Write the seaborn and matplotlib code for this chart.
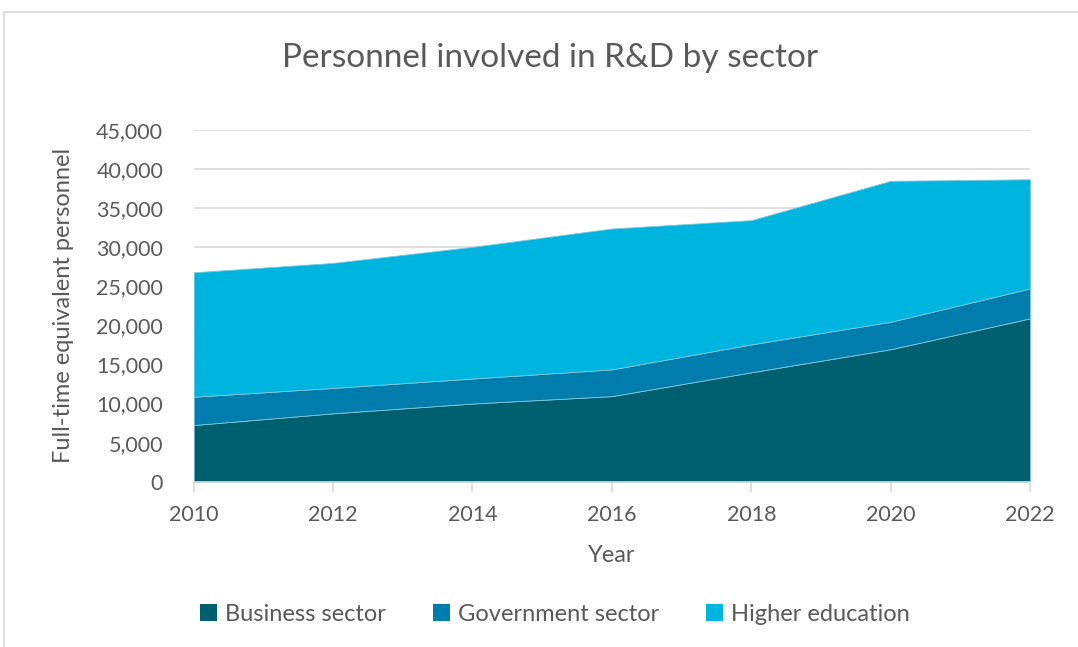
import matplotlib
matplotlib.use("Agg")
import matplotlib.pyplot as plt
import seaborn as sns
import numpy as np
from matplotlib.patches import Patch
from matplotlib.lines import Line2D
from matplotlib.ticker import FuncFormatter, MultipleLocator

years = [2010, 2012, 2014, 2016, 2018, 2020, 2022]
business = [7250, 8750, 10000, 10950, 14000, 16950, 20900]
government = [3620, 3250, 3200, 3420, 3570, 3510, 3830]
higher_education = [15930, 16000, 16850, 18030, 15900, 18040, 13970]
series_names = ["Business sector", "Government sector", "Higher education"]
colors = ["#005F6F", "#007DAD", "#00B4E0"]

sns.set_theme(style="white")
plt.rcParams["font.family"] = ["Lato", "DejaVu Sans"]
text_color = "#595959"
grid_color = "#D9D9D9"

fig = plt.figure(figsize=(10.78, 6.47), dpi=100)
ax = fig.add_axes([0.1797, 0.2555, 0.9555 - 0.1797, 0.799 - 0.2555])

ax.stackplot(years, business, government, higher_education,
             colors=colors, labels=series_names, linewidth=0.6,
             edgecolor="#7FC8DC", zorder=2)

ax.set_xlim(2010, 2022)
ax.set_ylim(0, 45000)
ax.set_xticks(years)
ax.yaxis.set_major_locator(MultipleLocator(5000))
ax.yaxis.set_major_formatter(FuncFormatter(lambda v, p: f"{int(v):,}"))
ax.grid(axis="y", color=grid_color, linewidth=1.2, zorder=0)
ax.grid(axis="x", visible=False)
for side in ["top", "right", "left"]:
    ax.spines[side].set_visible(False)
ax.spines["bottom"].set_color(grid_color)
ax.spines["bottom"].set_linewidth(1.2)
ax.spines["bottom"].set_zorder(3)
ax.tick_params(axis="x", which="major", bottom=True, length=7, width=1.2,
               color=grid_color, labelsize=15.5, labelcolor=text_color, pad=10)
ax.tick_params(axis="y", left=False, labelsize=15.5, labelcolor=text_color, pad=16)
ax.set_axisbelow(True)

ax.set_xlabel("Year", fontsize=17, color=text_color, labelpad=14)
ax.set_ylabel("Full-time equivalent personnel", fontsize=17, color=text_color, labelpad=16)

fig.text(0.51, 0.91, "Personnel involved in R&D by sector", ha="center", va="center",
         fontsize=24, color=text_color)

handles = [Patch(facecolor=c, edgecolor="none") for c in colors]
fig.legend(handles, series_names, loc="center", bbox_to_anchor=(0.515, 0.051),
           ncol=3, frameon=False, fontsize=17, labelcolor=text_color,
           handlelength=0.7, handleheight=0.7, handletextpad=0.35, columnspacing=2.0)

# outer frame (top and left edges)
fig.add_artist(Line2D([4 / 1078, 1.0], [1 - 12 / 647, 1 - 12 / 647],
                      transform=fig.transFigure, color=grid_color, linewidth=1.2))
fig.add_artist(Line2D([4 / 1078, 4 / 1078], [0.0, 1 - 12 / 647],
                      transform=fig.transFigure, color=grid_color, linewidth=1.2))

fig.savefig("out.png", dpi=100)
